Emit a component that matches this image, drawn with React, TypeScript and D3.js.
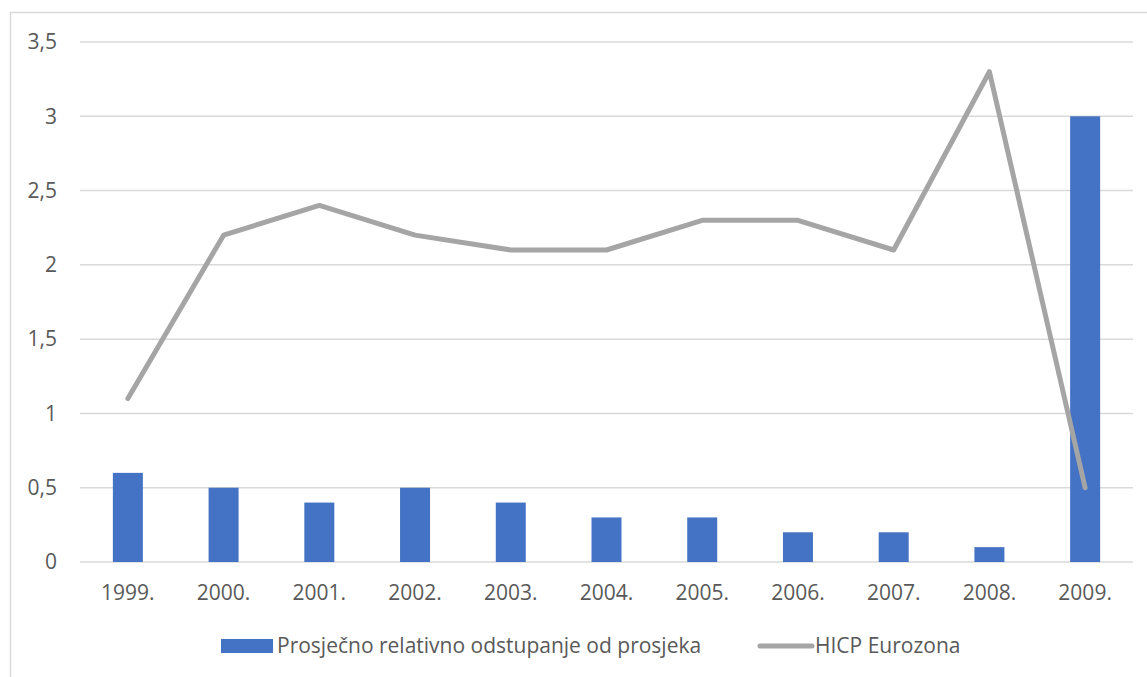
import React, { useEffect, useRef } from 'react'
import * as d3 from 'd3'

const years = ['1999.', '2000.', '2001.', '2002.', '2003.', '2004.', '2005.', '2006.', '2007.', '2008.', '2009.']
const deviation = [0.6, 0.5, 0.4, 0.5, 0.4, 0.3, 0.3, 0.2, 0.2, 0.1, 3.0]
const hicp = [1.1, 2.2, 2.4, 2.2, 2.1, 2.1, 2.3, 2.3, 2.1, 3.3, 0.5]
const yTicks = [0, 0.5, 1, 1.5, 2, 2.5, 3, 3.5]
const barName = 'Prosječno relativno odstupanje od prosjeka'
const lineName = 'HICP Eurozona'

const W = 1147
const H = 677
const FONT = '"Open Sans", sans-serif'
const TEXT = '#595959'
const FS = '21px'

export default function App() {
  const ref = useRef<SVGSVGElement>(null)

  useEffect(() => {
    if (!ref.current) return
    const svg = d3.select(ref.current)
    svg.selectAll('*').remove()

    const left = 80
    const right = 1133
    const top = 42
    const bottom = 562

    const x = d3.scaleBand().domain(years).range([left, right])
    const y = d3.scaleLinear().domain([0, 3.5]).range([bottom, top])

    // outer frame
    svg.append('rect')
      .attr('x', 10.5).attr('y', 12.5)
      .attr('width', 1300).attr('height', 800)
      .attr('fill', 'none').attr('stroke', '#d9d9d9').attr('stroke-width', 1.5)

    // gridlines
    svg.append('g').selectAll('line')
      .data(yTicks)
      .join('line')
      .attr('x1', left).attr('x2', right)
      .attr('y1', d => y(d)).attr('y2', d => y(d))
      .attr('stroke', '#d9d9d9').attr('stroke-width', 1.5)

    // y labels
    svg.append('g').selectAll('text')
      .data(yTicks)
      .join('text')
      .attr('x', 57)
      .attr('y', d => y(d))
      .attr('dy', '0.35em')
      .attr('text-anchor', 'end')
      .style('font-family', FONT)
      .style('font-size', FS)
      .style('fill', TEXT)
      .text(d => String(d).replace('.', ','))

    // x labels
    svg.append('g').selectAll('text')
      .data(years)
      .join('text')
      .attr('x', d => x(d)! + x.bandwidth() / 2)
      .attr('y', 593)
      .attr('dy', '0.35em')
      .attr('text-anchor', 'middle')
      .style('font-family', FONT)
      .style('font-size', FS)
      .style('fill', TEXT)
      .text(d => d)

    // bars
    const bw = 30
    svg.append('g').selectAll('rect')
      .data(deviation)
      .join('rect')
      .attr('x', (d, i) => x(years[i])! + x.bandwidth() / 2 - bw / 2)
      .attr('y', d => y(d))
      .attr('width', bw)
      .attr('height', d => y(0) - y(d))
      .attr('fill', '#4472c4')

    // line
    const line = d3.line<number>()
      .x((d, i) => x(years[i])! + x.bandwidth() / 2)
      .y(d => y(d))

    svg.append('path')
      .datum(hicp)
      .attr('d', line)
      .attr('fill', 'none')
      .attr('stroke', '#a5a5a5')
      .attr('stroke-width', 5)
      .attr('stroke-linejoin', 'round')
      .attr('stroke-linecap', 'round')

    // legend
    const ly = 646
    const lg = svg.append('g')
    lg.append('rect')
      .attr('x', 221).attr('y', ly - 7)
      .attr('width', 52).attr('height', 14)
      .attr('fill', '#4472c4')
    lg.append('text')
      .attr('x', 277).attr('y', ly).attr('dy', '0.35em')
      .style('font-family', FONT).style('font-size', FS).style('fill', TEXT)
      .text(barName)
    lg.append('line')
      .attr('x1', 760).attr('x2', 812)
      .attr('y1', ly).attr('y2', ly)
      .attr('stroke', '#a5a5a5').attr('stroke-width', 5)
      .attr('stroke-linecap', 'round')
    lg.append('text')
      .attr('x', 815).attr('y', ly).attr('dy', '0.35em')
      .style('font-family', FONT).style('font-size', FS).style('fill', TEXT)
      .text(lineName)
  }, [])

  return (
    <svg
      ref={ref}
      width={W}
      height={H}
      style={{ position: 'absolute', left: 0, top: 0, background: '#fff' }}
    />
  )
}
